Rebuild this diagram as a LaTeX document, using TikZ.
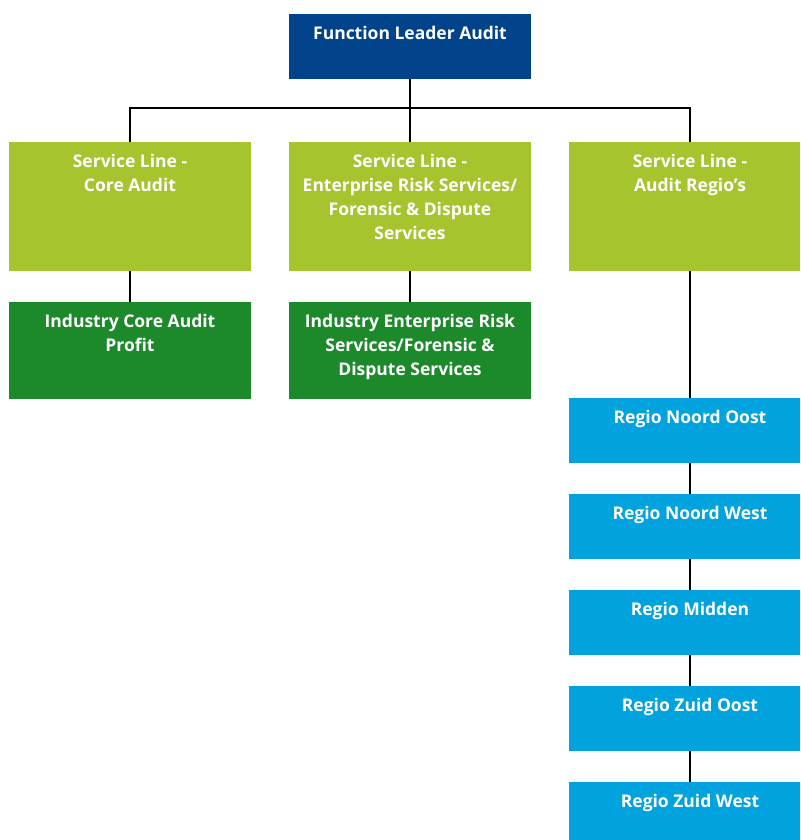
\documentclass[tikz,border=0pt]{standalone}
\usepackage{fontspec}
\setmainfont{Open Sans}
\definecolor{topblue}{RGB}{0,67,138}
\definecolor{lime}{RGB}{165,196,46}
\definecolor{dgreen}{RGB}{28,138,43}
\definecolor{cyanb}{RGB}{0,163,221}
\tikzset{
  boxnode/.style={draw=none, inner sep=0pt, outer sep=0pt, anchor=north west, minimum width=242pt, fill=#1},
  lbl/.style={inner sep=0pt, anchor=north, text=white, align=center, font=\fontsize{17.5pt}{24pt}\selectfont\bfseries},
  conn/.style={draw=black, line width=2.5pt}
}
\newcommand{\fs}{\rule{0pt}{14pt}}
\begin{document}
\begin{tikzpicture}[x=1pt,y=-1pt]
\useasboundingbox (0,0) rectangle (800,840);
\clip (0,0) rectangle (800,840);
% boxes
\node[boxnode=topblue, minimum height=65pt] (top) at (289,14) {};
\node[boxnode=lime, minimum height=129pt] (sl1) at (9,142) {};
\node[boxnode=lime, minimum height=129pt] (sl2) at (289,142) {};
\node[boxnode=lime, minimum height=129pt] (sl3) at (569,142) {};
\node[boxnode=dgreen, minimum height=97pt] (ind1) at (9,302) {};
\node[boxnode=dgreen, minimum height=97pt] (ind2) at (289,302) {};
\node[boxnode=cyanb, minimum height=65pt] (r1) at (569,398) {};
\node[boxnode=cyanb, minimum height=65pt] (r2) at (569,494) {};
\node[boxnode=cyanb, minimum height=65pt] (r3) at (569,590) {};
\node[boxnode=cyanb, minimum height=65pt] (r4) at (569,686) {};
\node[boxnode=cyanb, minimum height=65pt] (r5) at (569,782) {};
% connectors
\coordinate (bus) at (410,108);
\draw[conn] (top.south) -- (sl2.north);
\draw[conn] (sl1.north) |- (bus) -| (sl3.north);
\draw[conn] (sl1.south) -- (ind1.north);
\draw[conn] (sl2.south) -- (ind2.north);
\draw[conn] (sl3.south) -- (r1.north);
\draw[conn] (r1.south) -- (r2.north);
\draw[conn] (r2.south) -- (r3.north);
\draw[conn] (r3.south) -- (r4.north);
\draw[conn] (r4.south) -- (r5.north);
% labels
\node[lbl] (ttop) at ([yshift=-11pt]top.north) {\fs Function Leader Audit};
\node[lbl] (tsl1) at ([yshift=-11.5pt]sl1.north) {\fs Service Line -\\Core Audit};
\node[lbl] (tsl2) at ([yshift=-11.5pt]sl2.north) {\fs Service Line -\\Enterprise Risk Services/\\Forensic \& Dispute\\Services};
\node[lbl] (tsl3) at ([yshift=-11.5pt]sl3.north) {\fs Service Line -\\Audit Regio’s};
\node[lbl] (tind1) at ([yshift=-11.5pt]ind1.north) {\fs Industry Core Audit\\Profit};
\node[lbl] (tind2) at ([yshift=-11.5pt]ind2.north) {\fs Industry Enterprise Risk\\Services/Forensic \&\\Dispute Services};
\node[lbl] (tr1) at ([yshift=-11.5pt]r1.north) {\fs Regio Noord Oost};
\node[lbl] (tr2) at ([yshift=-11.5pt]r2.north) {\fs Regio Noord West};
\node[lbl] (tr3) at ([yshift=-11.5pt]r3.north) {\fs Regio Midden};
\node[lbl] (tr4) at ([yshift=-11.5pt]r4.north) {\fs Regio Zuid Oost};
\node[lbl] (tr5) at ([yshift=-11.5pt]r5.north) {\fs Regio Zuid West};
\end{tikzpicture}
\end{document}
